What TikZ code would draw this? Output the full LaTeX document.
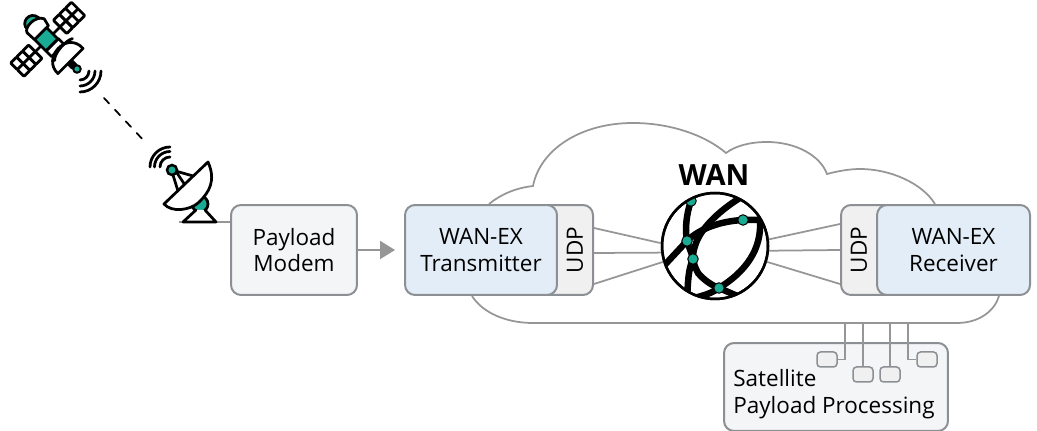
\documentclass[tikz,border=0pt]{standalone}
\usepackage{fontspec}
\setmainfont{Open Sans}
\usetikzlibrary{arrows.meta}
\definecolor{tealdot}{HTML}{1AAB94}
\definecolor{linegray}{HTML}{969696}
\definecolor{boxgray}{HTML}{8C9094}
\definecolor{paleblue}{HTML}{E3EDF7}
\definecolor{palegray}{HTML}{F4F5F7}
\definecolor{udpgray}{HTML}{F0F0F0}
\tikzset{
  conn/.style={draw=linegray, line width=0.035cm},
  inkline/.style={draw=black, line width=0.055cm, line join=round, line cap=round},
  box/.style={rectangle, rounded corners=0.2cm, draw=boxgray, line width=0.04cm, align=center,
    font=\fontsize{12.8}{15}\selectfont, inner sep=0pt},
  smallbox/.style={rectangle, rounded corners=0.07cm, draw=boxgray, line width=0.03cm, fill=udpgray,
    minimum width=0.4cm, minimum height=0.3cm, inner sep=0pt},
  dot/.style={circle, fill=tealdot, draw=black, line width=0.02cm, inner sep=0pt, minimum size=0.21cm},
}
\begin{document}
\begin{tikzpicture}[x=0.02cm, y=-0.02cm]
\useasboundingbox (0,0) rectangle (1037,431);

% cloud
\draw[conn] (489,204) .. controls (500,195) and (515,188) .. (533,186)
  .. controls (540,150) and (580,123) .. (633,123)
  .. controls (670,123) and (705,135) .. (726,153)
  .. controls (735,146) and (750,142) .. (767,142)
  .. controls (795,142) and (820,155) .. (827,174)
  .. controls (838,171) and (850,169) .. (860,169)
  .. controls (890,169) and (922,183) .. (935,204);
\draw[conn] (472,296) .. controls (482,312) and (505,323) .. (533,323) -- (957,323)
  .. controls (980,323) and (995,310) .. (999,296);

% boxes
\node[box, fill=palegray, minimum width=2.52cm, minimum height=1.8cm] (modem) at (294,250) {Payload\\Modem};
\node[box, fill=udpgray, minimum width=1.4cm, minimum height=1.8cm] (txudp) at (558,250) {};
\node[box, fill=paleblue, minimum width=3.04cm, minimum height=1.8cm] (tx) at (481,250) {WAN-EX\\Transmitter};
\node[font=\fontsize{12.8}{15}\selectfont, rotate=90, inner sep=0pt] (txudptext) at (575,250) {UDP};
\node[box, fill=udpgray, minimum width=1.4cm, minimum height=1.8cm] (rxudp) at (876,250) {};
\node[box, fill=paleblue, minimum width=3.06cm, minimum height=1.8cm] (rx) at (953.5,250) {WAN-EX\\Receiver};
\node[font=\fontsize{12.8}{15}\selectfont, rotate=90, inner sep=0pt] (rxudptext) at (859,250) {UDP};

% wan globe
\node[circle, draw=black, line width=0.05cm, fill=white, minimum size=2.12cm, inner sep=0pt] (wan) at (715,246) {};
\node[font=\fontsize{16.6}{20}\selectfont\bfseries, inner sep=0pt] (wantitle) at (714,175) {WAN};
\begin{scope}
\clip (715,246) circle[radius=52];
\draw[line width=0.13cm] (691,201) .. controls (686,215) and (685,230) .. (687,241)
  .. controls (689,248) and (692,253) .. (693,259) .. controls (688,270) and (688,282) .. (687,300);
\draw[line width=0.13cm] (660,270) -- (687,241) .. controls (700,228) and (722,221) .. (743,220)
  -- (760,220) .. controls (762,250) and (745,272) .. (719,288) .. controls (708,296) and (695,297) .. (680,302);
\draw[line width=0.13cm] (719,288) .. controls (728,292) and (738,296) .. (750,302);
\draw[line width=0.13cm] (745,195) .. controls (722,208) and (700,228) .. (695,246)
  .. controls (692,255) and (692,262) .. (698,273) .. controls (704,280) and (711,285) .. (719,288);
\end{scope}
\begin{scope}
\clip (715,246) circle[radius=52];
\node[dot] (wana) at (691,201) {};
\end{scope}
\node[dot] (wanb) at (687,241) {};
\node[dot] (wanc) at (693,259) {};
\node[dot] (wand) at (719,288) {};
\node[dot] (wane) at (743,220) {};
\draw[draw=black, line width=0.05cm] (wan) circle[radius=53];

% connectors
\draw[conn, line width=0.04cm, -{Triangle[length=0.3cm,width=0.36cm]}, shorten >=0.18cm] (modem.east) -- (tx.west);
\draw[conn] ([yshift=0.44cm]txudp.east) -- (wan.177);
\draw[conn] ([yshift=-0.06cm]txudp.east) -- (wan.187);
\draw[conn] ([yshift=-0.68cm]txudp.east) -- (wan.197);
\draw[conn] ([yshift=0.52cm]rxudp.west) -- (wan.7);
\draw[conn] (rxudp.west) -- (wan.-5);
\draw[conn] ([yshift=-0.68cm]rxudp.west) -- (wan.-17);

% satellite payload processing
\node[box, fill=palegray, minimum width=4.48cm, minimum height=1.76cm] (proc) at (836,387) {};
\node[font=\fontsize{12.8}{15}\selectfont, align=left, anchor=west, inner sep=0pt] (proctext) at (733,394) {Satellite\\Payload Processing};
\node[smallbox] (pa) at (827,359.5) {};
\node[smallbox] (pb) at (863,374.5) {};
\node[smallbox] (pc) at (890,374.5) {};
\node[smallbox] (pd) at (927,359.5) {};
\coordinate (ca) at (845,323);
\coordinate (cb) at (863,323);
\coordinate (cc) at (890,323);
\coordinate (cd) at (908,323);
\draw[conn] (ca) |- (pa.east);
\draw[conn] (cb) -- (pb.north);
\draw[conn] (cc) -- (pc.north);
\draw[conn] (cd) |- (pd.west);

% satellite
\begin{scope}[shift={(47,40)}, rotate=45]
\foreach \a in {18.5,-42}{
  \foreach \i in {0,1,2}{
    \foreach \j in {0,1}{
      \draw[inkline, fill=white, rounded corners=0.5pt] (\a+\i*8.5,-9.5+\j*9.5) rectangle +(8.5,9.5);
    }
  }
}
\draw[inkline] (-16,0) -- (-8,0);
\draw[inkline] (8,0) -- (18.5,0);
\draw[inkline, fill=tealdot] (-6,-21) .. controls (-8,-31) and (9,-34) .. (10,-21) -- cycle;
\draw[inkline, fill=white] (-8.5,-9) -- (-9,-19) .. controls (-8,-25) and (9,-26) .. (13,-17) -- (11,-9) -- cycle;
\draw[inkline, fill=white] (-8.5,7) rectangle (9,15);
\draw[inkline, fill=tealdot] (-8.5,-9) rectangle (8.5,7);
\draw[inkline, fill=black] (-2,31) rectangle (3,38);
\draw[inkline, fill=white] (-16,31.5) .. controls (-17,9) and (21,7) .. (19.5,31.5) -- cycle;
\draw[inkline] (-9,20) .. controls (-6,15) and (12,13) .. (19,17);
\node[dot, line width=0.04cm, minimum size=0.15cm] (satant) at (0.7,41.7) {};
\end{scope}
\foreach \r in {9,15,21}{
  \draw[inkline] (80+\r,71) arc[start angle=0, end angle=90, radius=\r];
}

% link
\coordinate (linka) at (104,98);
\coordinate (linkb) at (146,143);
\draw[line width=0.035cm, dash pattern=on 0.15cm off 0.17cm, line cap=round] (linka) -- (linkb);

% dish
\foreach \r in {10,15.5,20}{
  \draw[inkline] (170-\r,167) arc[start angle=180, end angle=270, radius=\r];
}
\draw[conn] (179,222) -- (modem.west |- 0,222);
\draw[inkline, fill=tealdot] (200,204) circle[radius=8];
\draw[inkline, fill=white] (196,210) -- (183,222) -- (216,222) -- (205,210);
\draw[inkline] (172,170) -- (193,176);
\draw[inkline] (173,175) -- (178,191);
\draw[inkline] (177,173) -- (185,185);
\draw[inkline, fill=white] (164,204) -- (208,162) .. controls (216,180) and (210,192) .. (198,203)
  .. controls (190,210) and (172,213) .. (164,204) -- cycle;
\node[dot, line width=0.05cm, minimum size=0.2cm] (dishant) at (172,170) {};
\end{tikzpicture}
\end{document}
